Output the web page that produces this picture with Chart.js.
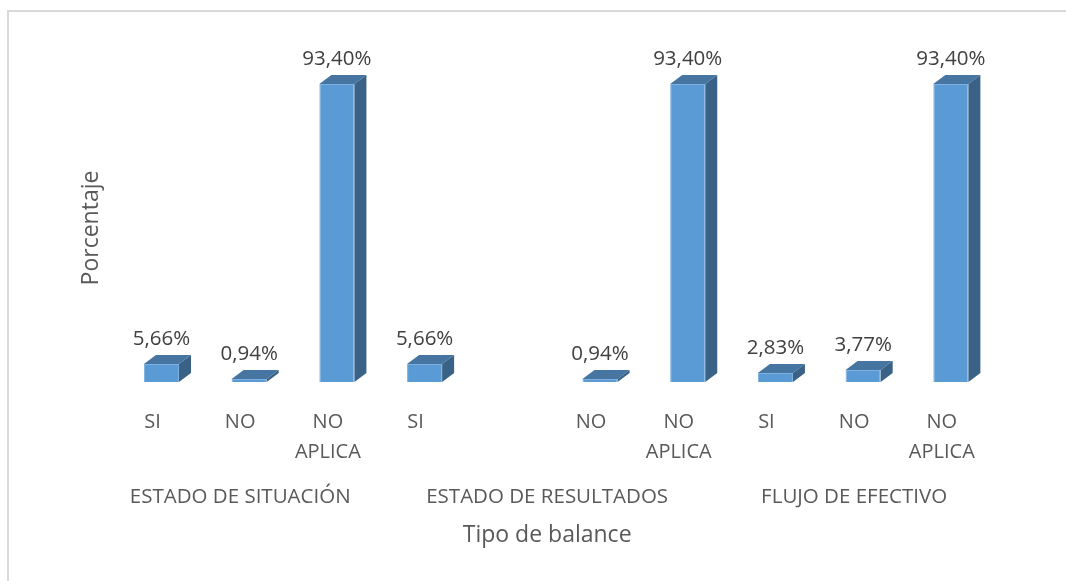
<!DOCTYPE html>
<html>
<head>
<meta charset="utf-8">
<script src="https://cdn.jsdelivr.net/npm/chart.js@4"></script>
<style>
  html, body { margin: 0; padding: 0; background: #fff; }
  #wrap { width: 1066px; height: 581px; }
</style>
</head>
<body>
<div id="wrap"><canvas id="ChartCanvas" width="1066" height="581"></canvas></div>
<script>
// categories (one empty slot in the middle group, as in the original)
const categories = ['SI', 'NO', ['NO', 'APLICA'], 'SI', '', 'NO', ['NO', 'APLICA'], 'SI', 'NO', ['NO', 'APLICA']];
const values = [5.66, 0.94, 93.40, 5.66, null, 0.94, 93.40, 2.83, 3.77, 93.40];
const groups = ['ESTADO DE SITUACIÓN', 'ESTADO DE RESULTADOS', 'FLUJO DE EFECTIVO'];
const groupSpans = [3, 4, 3];
const xTitle = 'Tipo de balance';
const yTitle = 'Porcentaje';

const FONT = "'Open Sans', sans-serif";
const TEXT = '#595959';
const DX = 12, DY = 9;     // 3d depth
const SHIFT = -9;          // labels sit a bit left of the bars

const fmt = v => v.toFixed(2).replace('.', ',') + '%';

const frame = {
  id: 'frame',
  beforeDraw: chart => {
    const ctx = chart.ctx;
    ctx.save();
    ctx.fillStyle = '#fff';
    ctx.fillRect(0, 0, chart.width, chart.height);
    ctx.fillStyle = '#d9d9d9';
    ctx.fillRect(7, 10, chart.width - 7, 2);
    ctx.fillRect(7, 10, 2, chart.height - 10);
    ctx.restore();
  }
};

const bars3d = {
  id: 'bars3d',
  afterDatasetsDraw: chart => {
    const ctx = chart.ctx;
    const meta = chart.getDatasetMeta(0);
    ctx.save();
    meta.data.forEach((bar, i) => {
      if (values[i] == null) return;
      const {x, y, base, width} = bar.getProps(['x', 'y', 'base', 'width'], true);
      const l = x - width / 2, r = x + width / 2;
      // top face
      ctx.beginPath();
      ctx.moveTo(l, y);
      ctx.lineTo(l + DX, y - DY);
      ctx.lineTo(r + DX, y - DY);
      ctx.lineTo(r, y);
      ctx.closePath();
      ctx.fillStyle = '#4675A2';
      ctx.fill();
      // side face
      ctx.beginPath();
      ctx.moveTo(r, y);
      ctx.lineTo(r + DX, y - DY);
      ctx.lineTo(r + DX, base - DY);
      ctx.lineTo(r, base);
      ctx.closePath();
      ctx.fillStyle = '#3A6287';
      ctx.fill();
      // value label
      ctx.font = '20.5px ' + FONT;
      ctx.fillStyle = '#404040';
      ctx.textAlign = 'center';
      ctx.textBaseline = 'middle';
      ctx.fillText(fmt(values[i]), x, y - DY - 16);
    });
    ctx.restore();
  }
};

const extraText = {
  id: 'extraText',
  afterDraw: chart => {
    const ctx = chart.ctx;
    const xs = chart.scales.x;
    const slot = (xs.right - xs.left) / categories.length;
    ctx.save();
    ctx.fillStyle = TEXT;
    ctx.textAlign = 'center';
    ctx.textBaseline = 'middle';
    ctx.font = '20.5px ' + FONT;
    let start = 0;
    groups.forEach((g, i) => {
      const cx = xs.left + slot * (start + groupSpans[i] / 2) + SHIFT;
      ctx.fillText(g, cx, 497);
      start += groupSpans[i];
    });
    ctx.font = '23px ' + FONT;
    ctx.fillText(xTitle, (xs.left + xs.right) / 2 + SHIFT, 535);
    ctx.translate(91, 228);
    ctx.rotate(-Math.PI / 2);
    ctx.fillText(yTitle, 0, 0);
    ctx.restore();
  }
};

new Chart(document.getElementById('ChartCanvas'), {
  type: 'bar',
  data: {
    labels: categories,
    datasets: [{
      data: values,
      backgroundColor: '#5B9BD5',
      borderColor: '#7EB0E0',
      borderWidth: 1,
      categoryPercentage: 1,
      barPercentage: 0.4
    }]
  },
  options: {
    responsive: false,
    animation: false,
    layout: { padding: { left: 117.6, right: 71.3, top: 63, bottom: 0 } },
    plugins: {
      legend: { display: false },
      tooltip: { enabled: false }
    },
    scales: {
      x: {
        grid: { display: false, drawTicks: false },
        border: { display: false },
        afterFit: scale => { scale.height = 199; },
        ticks: {
          color: TEXT,
          font: { family: FONT, size: 20, lineHeight: 1.5 },
          padding: 25,
          labelOffset: SHIFT,
          maxRotation: 0,
          autoSkip: false
        }
      },
      y: {
        display: false,
        min: 0,
        max: 100
      }
    }
  },
  plugins: [frame, bars3d, extraText]
});
</script>
</body>
</html>
